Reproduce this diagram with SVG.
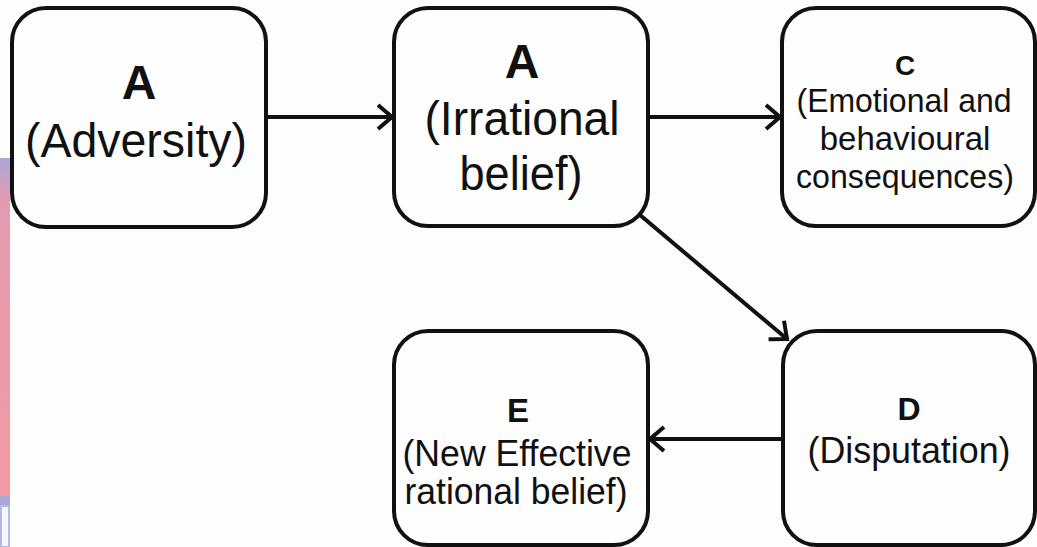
<svg xmlns="http://www.w3.org/2000/svg" width="1037" height="547" viewBox="0 0 1037 547">
<style>
.box{fill:#fefefe;stroke:#111;stroke-width:4}
.t{font-family:"Liberation Sans",Arial,sans-serif;fill:#111;text-anchor:middle}
.b{font-weight:bold}
.con{stroke:#111;stroke-width:4;fill:none}
</style>
<defs>
<marker id="arr" markerUnits="userSpaceOnUse" markerWidth="30" markerHeight="30" viewBox="-18 -15 22 30" refX="0" refY="0" orient="auto">
<path d="M-14,-12 L0,0 L-14,12" fill="none" stroke="#111" stroke-width="4"/>
</marker>
<linearGradient id="strip" x1="0" y1="0" x2="0" y2="1">
<stop offset="0" stop-color="#a9a6da"/>
<stop offset="0.12" stop-color="#e39ab0"/>
<stop offset="1" stop-color="#f29aa5"/>
</linearGradient>
</defs>
<rect width="1037" height="547" fill="#fdfdfb"/>
<g id="edge-artifact">
<rect x="0" y="158" width="10" height="340" fill="url(#strip)"/>
<rect x="0" y="496" width="10" height="10" fill="#a9a8d6"/>
<rect x="1" y="506" width="8" height="41" fill="#f6f7fe" stroke="#b8b8e0" stroke-width="2"/>
</g>
<g id="connectors">
<line class="con" x1="266" y1="117" x2="392" y2="117" marker-end="url(#arr)"/>
<line class="con" x1="648" y1="117" x2="780" y2="117" marker-end="url(#arr)"/>
<line class="con" x1="640" y1="215" x2="787" y2="339" marker-end="url(#arr)"/>
<line class="con" x1="783" y1="439" x2="650" y2="439" marker-end="url(#arr)"/>
</g>
<g id="node-adversity">
<rect class="box" x="12" y="8" width="254" height="219" rx="34"/>
<text class="t b" x="139" y="99" font-size="48">A</text>
<text class="t" x="136" y="157" font-size="48" textLength="222" lengthAdjust="spacingAndGlyphs">(Adversity)</text>
</g>
<g id="node-irrational">
<rect class="box" x="394" y="8" width="254" height="218" rx="34"/>
<text class="t b" x="522" y="78" font-size="48">A</text>
<text class="t" x="522" y="135" font-size="48" textLength="195" lengthAdjust="spacingAndGlyphs">(Irrational</text>
<text class="t" x="521" y="190" font-size="48" textLength="123" lengthAdjust="spacingAndGlyphs">belief)</text>
</g>
<g id="node-consequences">
<rect class="box" x="782" y="8" width="253" height="218" rx="34"/>
<text class="t b" x="905" y="75" font-size="28">C</text>
<text class="t" x="904" y="112" font-size="34" textLength="215" lengthAdjust="spacingAndGlyphs">(Emotional and</text>
<text class="t" x="905" y="150" font-size="33">behavioural</text>
<text class="t" x="905" y="188" font-size="34" textLength="218" lengthAdjust="spacingAndGlyphs">consequences)</text>
</g>
<g id="node-effective">
<rect class="box" x="394" y="331" width="254" height="214" rx="34"/>
<text class="t b" x="518" y="422" font-size="33">E</text>
<text class="t" x="517" y="466" font-size="37" textLength="229" lengthAdjust="spacingAndGlyphs">(New Effective</text>
<text class="t" x="516" y="504" font-size="37" textLength="223" lengthAdjust="spacingAndGlyphs">rational belief)</text>
</g>
<g id="node-disputation">
<rect class="box" x="783" y="331" width="252" height="214" rx="34"/>
<text class="t b" x="909" y="420" font-size="32">D</text>
<text class="t" x="909" y="463" font-size="37" textLength="203" lengthAdjust="spacingAndGlyphs">(Disputation)</text>
</g>
</svg>
